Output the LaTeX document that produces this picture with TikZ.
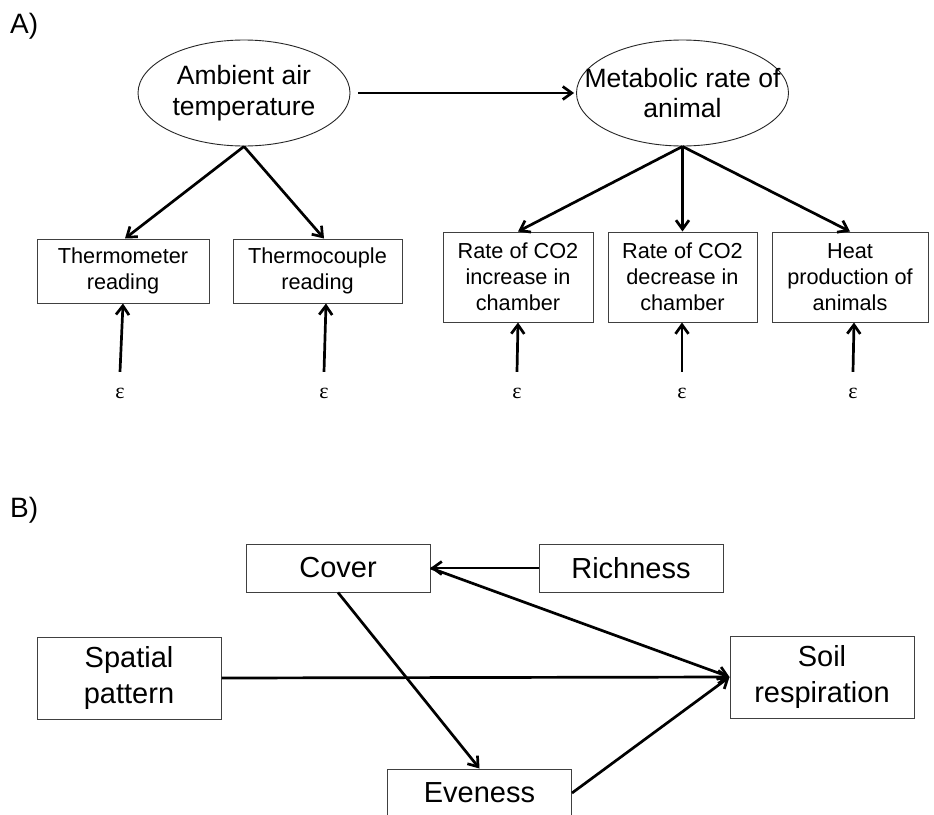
\documentclass[tikz,border=0pt]{standalone}
\usepackage{fontspec}
\setmainfont{Liberation Sans}
\newfontfamily\epsfont{Liberation Serif}
\usetikzlibrary{arrows.meta,shapes.geometric}

\begin{document}
\begin{tikzpicture}[x=1pt,y=-1pt,
  latent/.style={draw=black!85, line width=0.9pt, ellipse, inner sep=0pt,
    minimum width=212pt, minimum height=106pt, align=center,
    font=\fontsize{26.5}{30.5}\selectfont},
  mbox/.style={draw=black!75, line width=1pt, inner sep=0pt, align=center,
    font=\fontsize{21.7}{26}\selectfont},
  vbox/.style={draw=black!75, line width=1pt, inner sep=0pt, minimum width=184pt,
    align=center, font=\fontsize{29}{36}\selectfont},
  errterm/.style={inner sep=0pt, minimum height=42pt, font=\fontsize{22}{24}\epsfont},
  link/.style={line width=2.7pt, -{Straight Barb[length=9pt,width=13pt]}},
  panel/.style={font=\fontsize{28}{30}\selectfont, anchor=base west, inner sep=0pt}
]
\fill[white] (0,0) rectangle (934,814);
\useasboundingbox (0,0) rectangle (934,814);

% panel labels
\node[panel] (labA) at (10,33) {A)};
\node[panel] (labB) at (10,517) {B)};

% ---- A) measurement model ----
\node[latent] (amb) at (244,93) {Ambient air\\temperature};
\node[latent] (met) at (682.5,93) {\makebox[120pt]{Metabolic rate of}\\animal};

\node[mbox, minimum width=172pt, minimum height=64pt] (thm) at (123,271) {Thermometer\\reading};
\node[mbox, minimum width=169pt, minimum height=64pt] (thc) at (317.5,271) {Thermocouple\\reading};
\node[mbox, minimum width=150pt, minimum height=90pt] (co2i) at (518,277) {Rate of CO2\\increase in\\chamber};
\node[mbox, minimum width=149pt, minimum height=90pt] (co2d) at (682.5,277) {Rate of CO2\\decrease in\\chamber};
\node[mbox, minimum width=156pt, minimum height=90pt] (heat) at (850,277) {Heat\\production of\\animals};

\node[errterm] (e1) at (120,393) {ε};
\node[errterm] (e2) at (324,393) {ε};
\node[errterm] (e3) at (517,393) {ε};
\node[errterm] (e4) at (682,393) {ε};
\node[errterm] (e5) at (853,393) {ε};

\draw[link, shorten <=8pt, shorten >=2pt] (amb.east) -- (met.west);
\draw[link] (amb.south) -- ([xshift=2pt]thm.north);
\draw[link] (amb.south) -- ([xshift=6.5pt]thc.north);
\draw[link] (met.south) -- (co2i.north);
\draw[link] (met.south) -- (co2d.north);
\draw[link] (met.south) -- (heat.north);

\draw[link] (e1.north) -- ([xshift=3pt]e1.north |- thm.south);
\draw[link] (e2.north) -- ([xshift=2pt]e2.north |- thc.south);
\draw[link] (e3.north) -- ([xshift=1pt]e3.north |- co2i.south);
\draw[link] (e4.north) -- (e4.north |- co2d.south);
\draw[link] (e5.north) -- ([xshift=1pt]e5.north |- heat.south);

% ---- B) path model ----
\node[vbox, minimum height=48pt] (cov) at (338,568) {Cover};
\node[vbox, minimum height=48pt] (rich) at (631,568) {Richness};
\node[vbox, minimum height=82pt] (spat) at (129,678) {Spatial\\pattern};
\node[vbox, minimum height=82pt] (soil) at (822,677) {Soil\\respiration};
\node[vbox, minimum height=48pt] (even) at (479.5,793) {Eveness};

\draw[link] (rich.west) -- (cov.east);
\draw[link] (cov.east) -- (soil.west);
\draw[link] (spat.east) -- (soil.west);
\draw[link] (cov.south) -- (even.north);
\draw[link] (even.east) -- (soil.west);
\end{tikzpicture}
\end{document}
